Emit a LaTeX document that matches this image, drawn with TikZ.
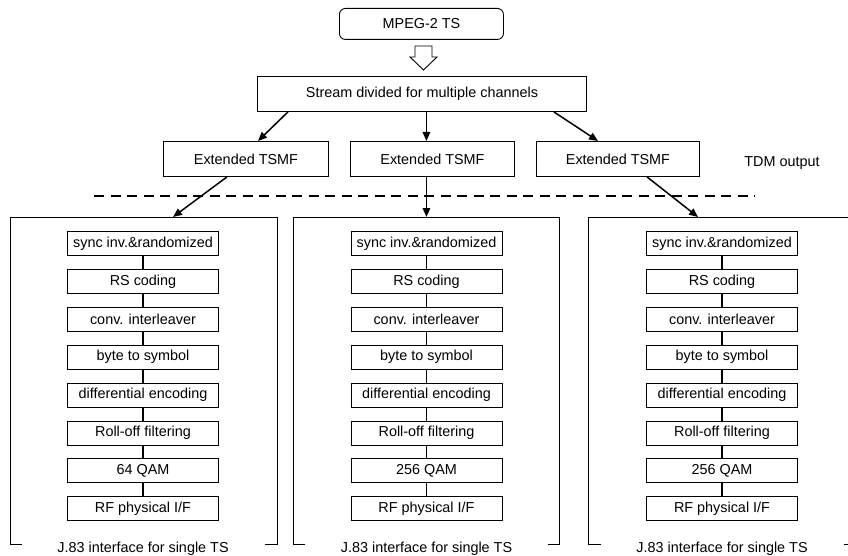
\documentclass[tikz,border=0pt]{standalone}
\usepackage{fontspec}
\setmainfont{Liberation Sans}
\usetikzlibrary{arrows.meta,calc}
\begin{document}
\begin{tikzpicture}[x=1pt,y=-1pt,
  txt/.style={font=\fontsize{14.4}{16}\selectfont},
  box/.style={txt, draw, line width=0.9pt, inner sep=0pt, anchor=north west},
  inbox/.style={txt, draw, line width=0.9pt, inner sep=0pt, minimum width=151pt, minimum height=24pt},
  bigbox/.style={draw, line width=0.9pt, inner sep=0pt, anchor=north west},
  lab/.style={txt, fill=white, inner xsep=0pt, inner ysep=2pt, minimum width=243pt, anchor=base},
  arr/.style={line width=1.5pt, -{Triangle[length=9pt,width=7.5pt]}},
  link/.style={line width=1.5pt},
  dline/.style={line width=1.8pt, dash pattern=on 10pt off 6.5pt}]
\useasboundingbox (0,0) rectangle (848,556);
\clip (0,0) rectangle (848,556);

% top part
\node[box, rounded corners=6pt, minimum width=164pt, minimum height=31pt] (mpeg) at (339,8) {MPEG-2 TS};
\draw[line width=0.9pt] (415,46) -- (432,46) -- (432,57) -- (437,57) -- (423.5,70) -- (410,57) -- (415,57) -- cycle;
\node[box, minimum width=329pt, minimum height=35pt] (stream) at (257,76) {Stream divided for multiple channels};

\node[box, minimum width=165pt, minimum height=35pt] (t1) at (163,141) {Extended TSMF};
\node[box, minimum width=164pt, minimum height=35pt] (t2) at (350,141) {Extended TSMF};
\node[box, minimum width=163pt, minimum height=35pt] (t3) at (536,141) {Extended TSMF};
\node[txt, inner sep=0pt] (tdm) at (782,163) {TDM output};

\coordinate (dl) at (94,196);
\coordinate (dr) at (755,196);
\draw[dline] (dl) -- (dr);

% columns
\foreach \c/\L/\R/\C/\q in {1/10/277/143/64, 2/293/559/426.5/256, 3/588/858/722/256} {
  \node[bigbox, minimum width={\R-\L}, minimum height=327pt] (b\c) at (\L,217) {};
  \foreach \k/\t in {1/{sync inv.\&randomized}, 2/{RS coding}, 3/{conv. interleaver}, 4/{byte to symbol},
                     5/{differential encoding}, 6/{Roll-off filtering}, 7/{\q\ QAM}, 8/{RF physical I/F}} {
    \node[inbox] (i\c-\k) at (\C,{243.5+37.9*(\k-1)}) {\t};
  }
  \foreach \k in {1,...,7} {
    \pgfmathtruncatemacro\n{\k+1}
    \draw[link] (i\c-\k.south) -- (i\c-\n.north);
  }
  \node[lab] (l\c) at (\C,552.5) {J.83 interface for single TS};
}

% arrows
\draw[arr] ([xshift=31pt]stream.south west) -- ([xshift=95pt]t1.north west);
\draw[arr] (stream.south -| b2.north) -- (t2.north -| b2.north);
\draw[arr] ([xshift=-33pt]stream.south east) -- ([xshift=62pt]t3.north west);
\draw[arr] ([xshift=64pt]t1.south west) -- ([xshift=163pt]b1.north west);
\draw[arr] (t2.south -| b2.north) -- (b2.north);
\draw[arr] ([xshift=111pt]t3.south west) -- ([xshift=110pt]b3.north west);
\end{tikzpicture}
\end{document}
